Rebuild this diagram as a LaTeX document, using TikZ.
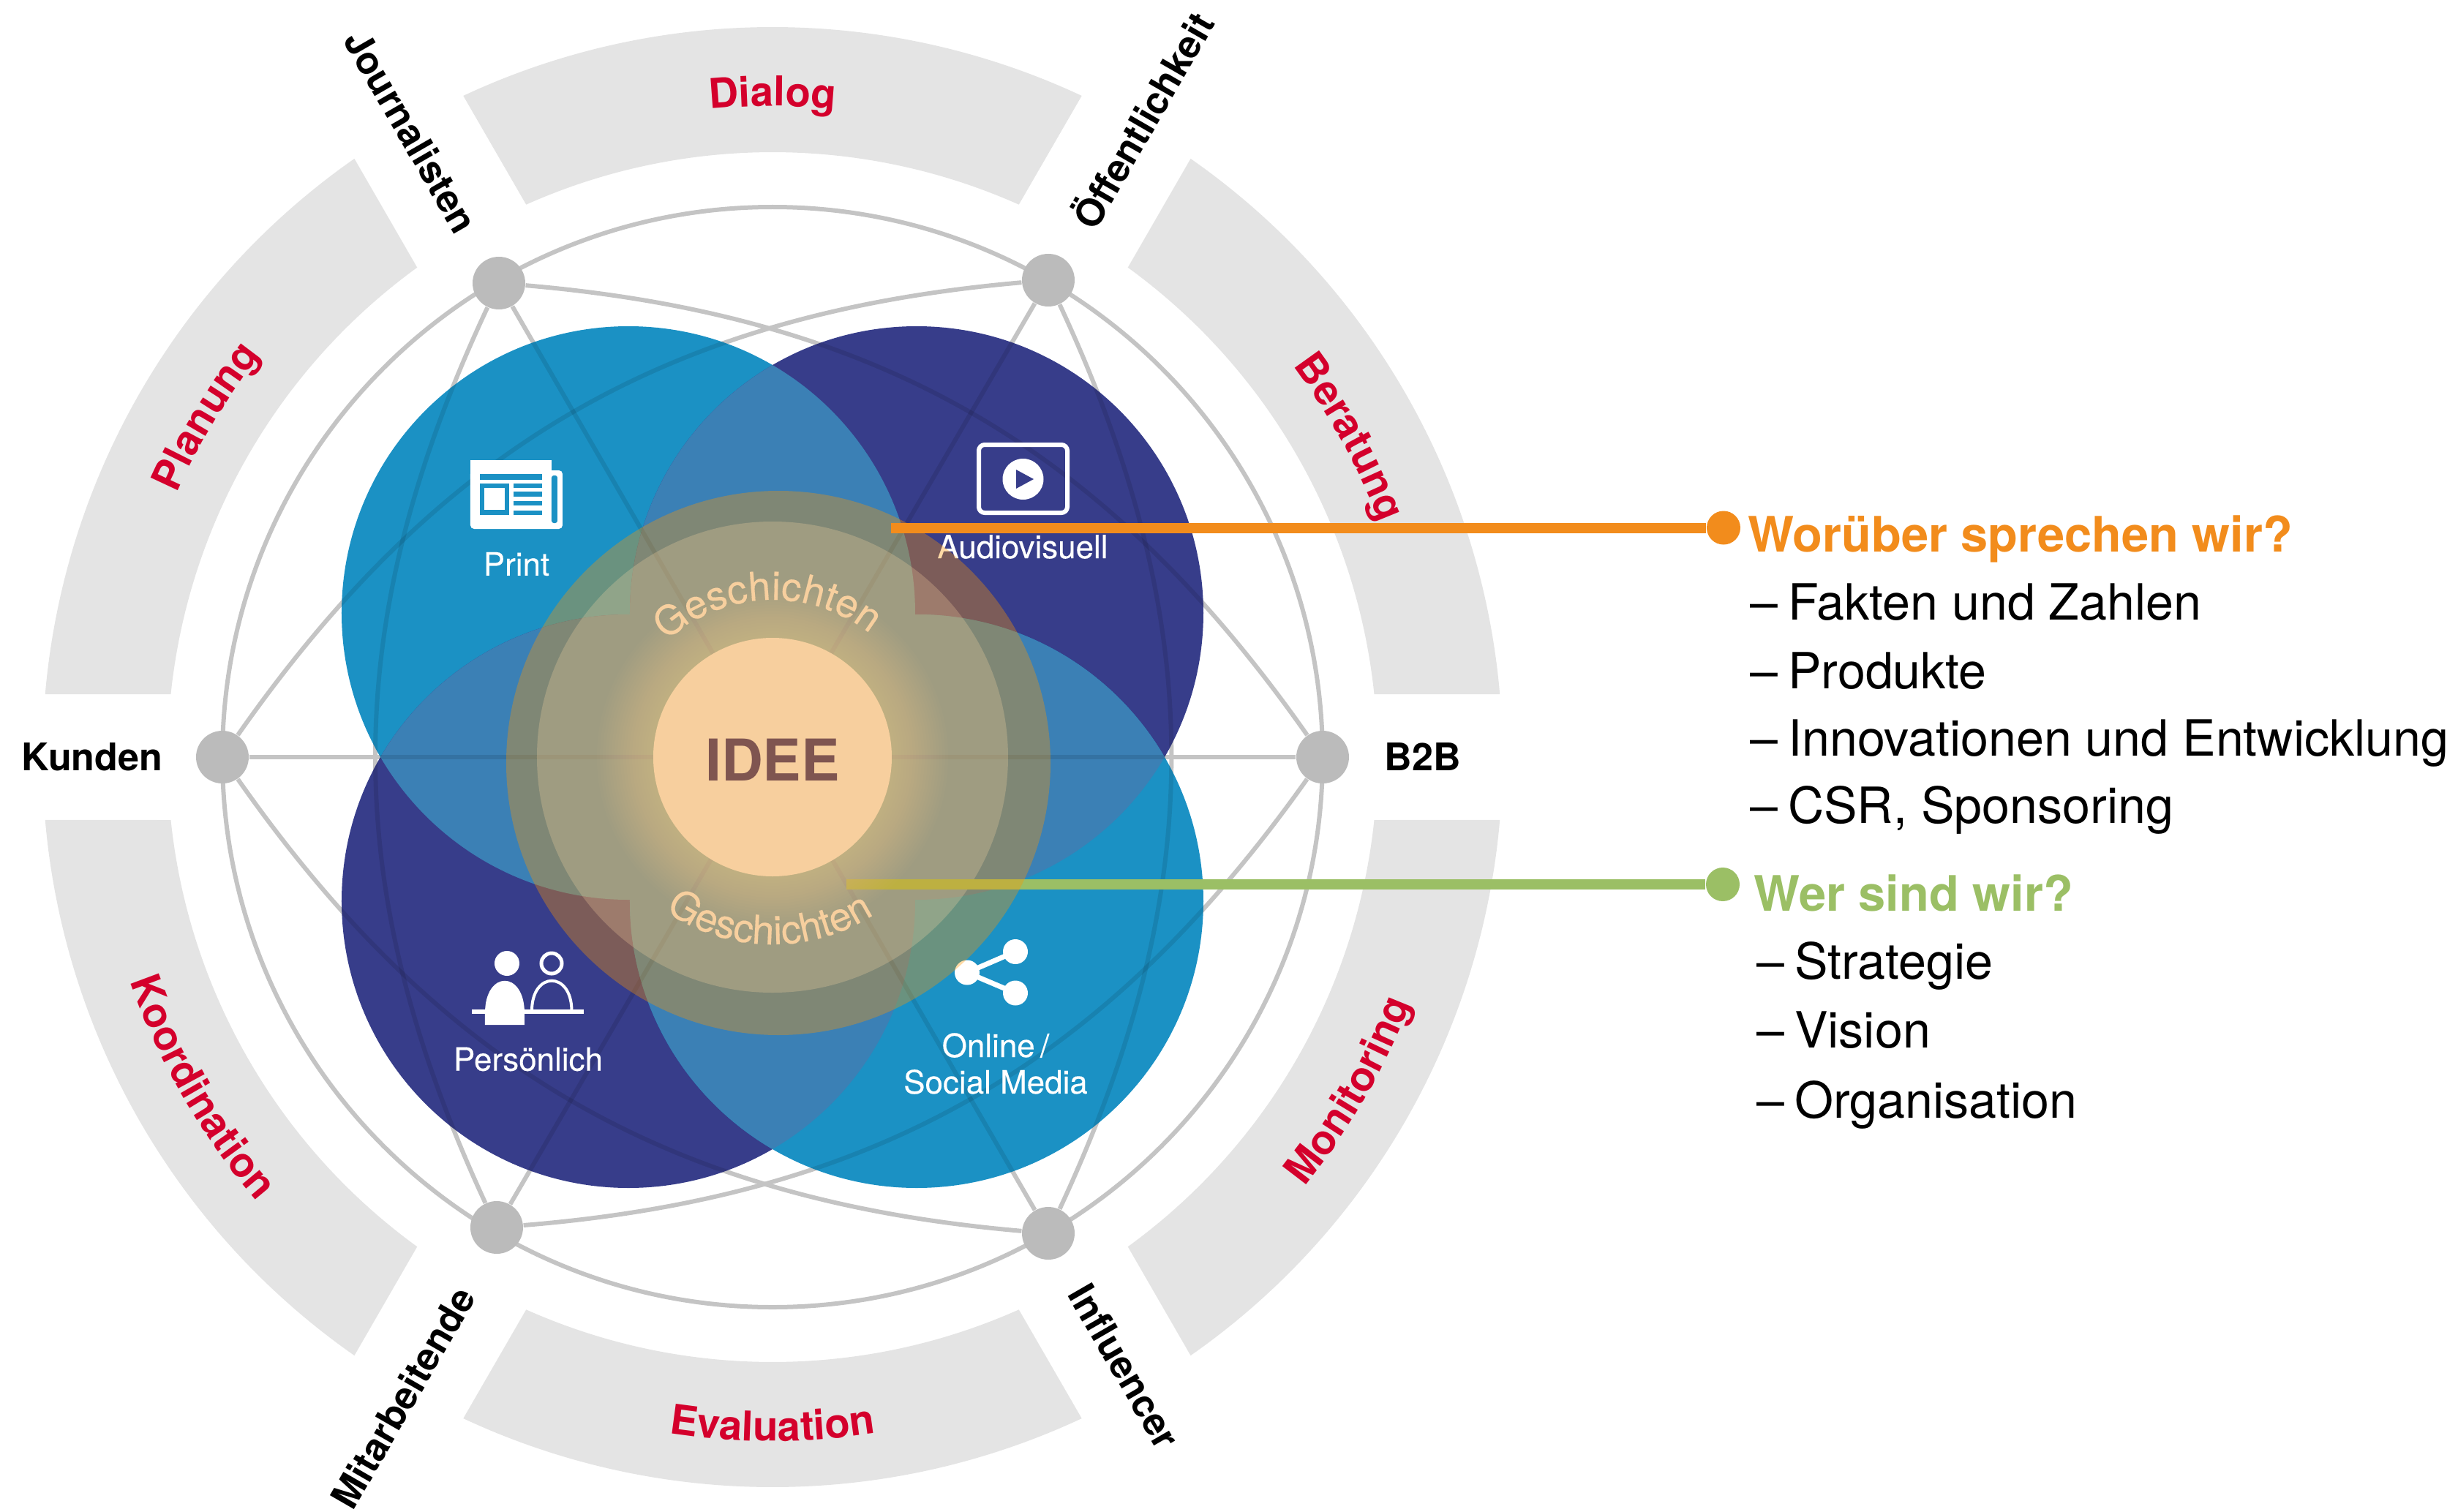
\documentclass[tikz,border=0pt]{standalone}
\usepackage{fontspec}
\setmainfont{TeX Gyre Heros}
\usetikzlibrary{decorations.text}

\definecolor{segmentgray}{RGB}{228,228,228}
\definecolor{netgray}{RGB}{196,196,196}
\definecolor{dotgray}{RGB}{187,187,187}
\definecolor{labelred}{RGB}{212,0,44}
\definecolor{lightblue}{RGB}{27,145,196}
\definecolor{darkblue}{RGB}{55,61,138}
\definecolor{lensblue}{RGB}{59,128,181}
\definecolor{haloorange}{RGB}{255,150,0}
\definecolor{ideepeach}{RGB}{247,207,158}
\definecolor{ideebrown}{RGB}{127,85,80}
\definecolor{askorange}{RGB}{242,140,28}
\definecolor{askgreen}{RGB}{155,191,101}

\newfontfamily\mediumfont[FakeBold=0.25]{TeX Gyre Heros}
\newcommand{\seglabelfont}{\fontsize{16}{16}\selectfont\bfseries\color{labelred}}
\newcommand{\storyfont}{\mediumfont\fontsize{15.5}{15.5}\selectfont\color{ideepeach}}
\newcommand{\dashgap}{–\hskip0.2em}
\newcommand{\netlines}[1]{
	\draw[#1] (jour) -- (infl);
	\draw[#1] (oeff) -- (mita);
	\draw[#1] (kund) -- (btob);
	\draw[#1] (jour) to[bend left=25] (btob);
	\draw[#1] (oeff) to[bend left=25] (infl);
	\draw[#1] (btob) to[bend left=25] (mita);
	\draw[#1] (infl) to[bend left=25] (kund);
	\draw[#1] (mita) to[bend left=25] (jour);
	\draw[#1] (kund) to[bend left=25] (oeff);
}

\tikzset{
	segment/.style={fill=segmentgray},
	seglabel/.style={decorate,decoration={text along path,text align=center,text={|\seglabelfont|#1}}},
	storylabel/.style={decorate,decoration={text along path,text align=center,text={|\storyfont|#1}}},
	netdot/.style={circle,fill=dotgray,minimum size=0.72cm,inner sep=0pt},
	netline/.style={draw=netgray,line width=0.06cm},
	netshade/.style={draw=black,opacity=0.1,line width=0.06cm},
	spokelabel/.style={font=\fontsize{14.8}{14.8}\selectfont\bfseries,inner sep=0pt},
	medialabel/.style={font=\mediumfont\fontsize{12.5}{14.2}\selectfont,text=white,inner sep=0pt,align=center},
	askdot/.style={circle,minimum size=0.46cm,inner sep=0pt},
	askhead/.style={font=\fontsize{19}{19}\selectfont\bfseries,anchor=base west,inner sep=0pt},
	askitem/.style={font=\fontsize{19.4}{19.4}\selectfont,anchor=base west,inner sep=0pt},
	sharedot/.style={circle,fill=white,minimum size=0.34cm,inner sep=0pt}
}

\begin{document}
\begin{tikzpicture}
	\useasboundingbox (-10.56,-10.31) rectangle (23.04,10.35);

	% outer band
	\fill[segment] (4.94:9.98) arc[start angle=4.94,end angle=55.06,radius=9.98] -- (54.03:8.27) arc[start angle=54.03,end angle=5.97,radius=8.27] -- cycle;
	\fill[segment] (64.94:9.98) arc[start angle=64.94,end angle=115.06,radius=9.98] -- (114.03:8.27) arc[start angle=114.03,end angle=65.97,radius=8.27] -- cycle;
	\fill[segment] (124.94:9.98) arc[start angle=124.94,end angle=175.06,radius=9.98] -- (174.03:8.27) arc[start angle=174.03,end angle=125.97,radius=8.27] -- cycle;
	\fill[segment] (184.94:9.98) arc[start angle=184.94,end angle=235.06,radius=9.98] -- (234.03:8.27) arc[start angle=234.03,end angle=185.97,radius=8.27] -- cycle;
	\fill[segment] (244.94:9.98) arc[start angle=244.94,end angle=295.06,radius=9.98] -- (294.03:8.27) arc[start angle=294.03,end angle=245.97,radius=8.27] -- cycle;
	\fill[segment] (304.94:9.98) arc[start angle=304.94,end angle=355.06,radius=9.98] -- (354.03:8.27) arc[start angle=354.03,end angle=305.97,radius=8.27] -- cycle;

	\path[seglabel=Dialog] (120:8.9) arc[start angle=120,end angle=60,radius=8.9];
	\path[seglabel=Planung] (179:8.9) arc[start angle=179,end angle=119,radius=8.9];
	\path[seglabel=Beratung] (59:8.9) arc[start angle=59,end angle=-1,radius=8.9];
	\path[seglabel=Koordination] (180:9.3) arc[start angle=180,end angle=240,radius=9.3];
	\path[seglabel=Evaluation] (240:9.35) arc[start angle=240,end angle=300,radius=9.35];
	\path[seglabel=Monitoring] (300:9.35) arc[start angle=300,end angle=360,radius=9.35];

	% net
	\draw[netline] (0,0) circle (7.52);
	\node[netdot] (jour) at (-3.74,6.48) {};
	\node[netdot] (oeff) at (3.77,6.52) {};
	\node[netdot] (btob) at (7.52,0) {};
	\node[netdot] (infl) at (3.77,-6.51) {};
	\node[netdot] (mita) at (-3.77,-6.43) {};
	\node[netdot] (kund) at (-7.52,0) {};
	\netlines{netline}

	\node[spokelabel,rotate=-60] (journalisten) at (120:9.88) {Journalisten};
	\node[spokelabel,rotate=60] (oeffentlichkeit) at (60:10.07) {Öffentlichkeit};
	\node[spokelabel] (kunden) at (-9.3,0) {Kunden};
	\node[spokelabel] (b2b) at (8.89,0) {B2B};
	\node[spokelabel,rotate=60] (mitarbeitende) at (240:10.11) {Mitarbeitende};
	\node[spokelabel,rotate=-60] (influencer) at (300:9.62) {Influencer};

	% four media circles
	\coordinate (tl) at (-1.97,1.97);
	\coordinate (tr) at (1.97,1.97);
	\coordinate (bl) at (-1.97,-1.97);
	\coordinate (br) at (1.97,-1.97);
	\fill[lightblue] (tl) circle (3.92);
	\fill[darkblue] (tr) circle (3.92);
	\fill[darkblue] (bl) circle (3.92);
	\fill[lightblue] (br) circle (3.92);
	\begin{scope}
		\clip (tl) circle (3.92);
		\fill[lensblue] (tr) circle (3.92);
		\fill[lensblue] (bl) circle (3.92);
		\fill[lensblue] (br) circle (3.92);
	\end{scope}
	\begin{scope}
		\clip (tr) circle (3.92);
		\fill[lensblue] (bl) circle (3.92);
		\fill[lensblue] (br) circle (3.92);
	\end{scope}
	\begin{scope}
		\clip (bl) circle (3.92);
		\fill[lensblue] (br) circle (3.92);
	\end{scope}
	\begin{scope}
		\clip (tl) circle (3.92) (tr) circle (3.92) (bl) circle (3.92) (br) circle (3.92);
		\netlines{netshade}
	\end{scope}

	% print icon
	\fill[white,rounded corners=0.05cm] (-4.13,3.12) rectangle (-2.87,3.92);
	\fill[white] (-4.13,3.3) rectangle (-3.02,4.06);
	\fill[lightblue] (-4.00,3.87) rectangle (-3.15,3.79);
	\fill[lightblue] (-4.00,3.74) rectangle (-3.60,3.31);
	\fill[white] (-3.94,3.68) rectangle (-3.66,3.38);
	\fill[lightblue] (-3.535,3.74) rectangle (-3.15,3.68);
	\fill[lightblue] (-3.535,3.63) rectangle (-3.15,3.56);
	\fill[lightblue] (-3.535,3.50) rectangle (-3.15,3.44);
	\fill[lightblue] (-3.535,3.37) rectangle (-3.15,3.31);
	\fill[lightblue,rounded corners=0.03cm] (-3.02,3.85) rectangle (-2.94,3.2);
	\node[medialabel] (print) at (-3.50,2.64) {Print};

	% video icon
	\draw[white,line width=0.06cm,rounded corners=0.08cm] (2.82,3.34) rectangle (4.03,4.27);
	\fill[white] (3.425,3.80) circle (0.28);
	\fill[darkblue] (3.33,3.93) -- (3.33,3.67) -- (3.57,3.80) -- cycle;
	\node[medialabel] (audiovisuell) at (3.42,2.875) {Audiovisuell};

	% persons icon
	\fill[white] (-3.63,-2.82) circle (0.17);
	\draw[white,line width=0.05cm] (-3.02,-2.82) circle (0.14);
	\fill[white] (-3.93,-3.66) -- (-3.93,-3.5) .. controls (-3.93,-2.91) and (-3.39,-2.91) .. (-3.39,-3.5) -- (-3.39,-3.66) -- cycle;
	\draw[white,line width=0.04cm] (-3.29,-3.47) .. controls (-3.29,-2.92) and (-2.745,-2.92) .. (-2.745,-3.47);
	\fill[white] (-4.11,-3.445) rectangle (-2.575,-3.51);
	\node[medialabel] (persoenlich) at (-3.34,-4.13) {Persönlich};

	% share icon
	\node[sharedot] (shareleft) at (2.66,-2.945) {};
	\node[sharedot] (sharetop) at (3.32,-2.66) {};
	\node[sharedot] (sharebottom) at (3.32,-3.225) {};
	\draw[white,line width=0.07cm] (shareleft.center) -- (sharetop.center);
	\draw[white,line width=0.07cm] (shareleft.center) -- (sharebottom.center);
	\node[medialabel] (online) at (3.05,-4.19) {Online\,/\\Social Media};

	% middle
	\fill[white,opacity=0.255] (0,0) circle (3.22);
	\coordinate (greenstart) at (1.01,-1.74);
	\node[askdot,fill=askgreen] (greendot) at (12.99,-1.74) {};
	\draw[askgreen,line width=0.14cm] (greenstart) -- (greendot);
	\fill[haloorange,opacity=0.35] (0.08,-0.08) circle (3.72);
	\foreach \r in {2.4,2.36,...,1.63}
		\fill[ideepeach,opacity=0.03] (0,0) circle (\r);
	\fill[ideepeach] (0,0) circle (1.63);
	\node[font=\fontsize{22.4}{22.4}\selectfont\bfseries,text=ideebrown,inner sep=0pt] (idee) at (0,-0.04) {IDEE};
	\path[storylabel=Geschichten] (132:2.15) arc[start angle=132,end angle=52,radius=2.15];
	\path[storylabel=Geschichten] (224:2.56) arc[start angle=224,end angle=314,radius=2.56];

	% orange line over everything
	\coordinate (orangestart) at (1.62,3.135);
	\node[askdot,fill=askorange] (orangedot) at (13.00,3.135) {};
	\draw[askorange,line width=0.14cm] (orangestart) -- (orangedot);

	% questions
	\node[askhead,text=askorange] (worueber) at (13.33,2.81) {Worüber sprechen wir?};
	\node[askitem] (fakten) at (13.36,1.88) {\dashgap Fakten und Zahlen};
	\node[askitem] (produkte) at (13.36,0.94) {\dashgap Produkte};
	\node[askitem] (innovationen) at (13.36,0.02) {\dashgap Innovationen und Entwicklung};
	\node[askitem] (csr) at (13.36,-0.90) {\dashgap CSR, Sponsoring};

	\node[askhead,text=askgreen] (wer) at (13.41,-2.10) {Wer sind wir?};
	\node[askitem] (strategie) at (13.45,-3.03) {\dashgap Strategie};
	\node[askitem] (vision) at (13.45,-3.97) {\dashgap Vision};
	\node[askitem] (organisation) at (13.45,-4.93) {\dashgap Organisation};
\end{tikzpicture}
\end{document}
